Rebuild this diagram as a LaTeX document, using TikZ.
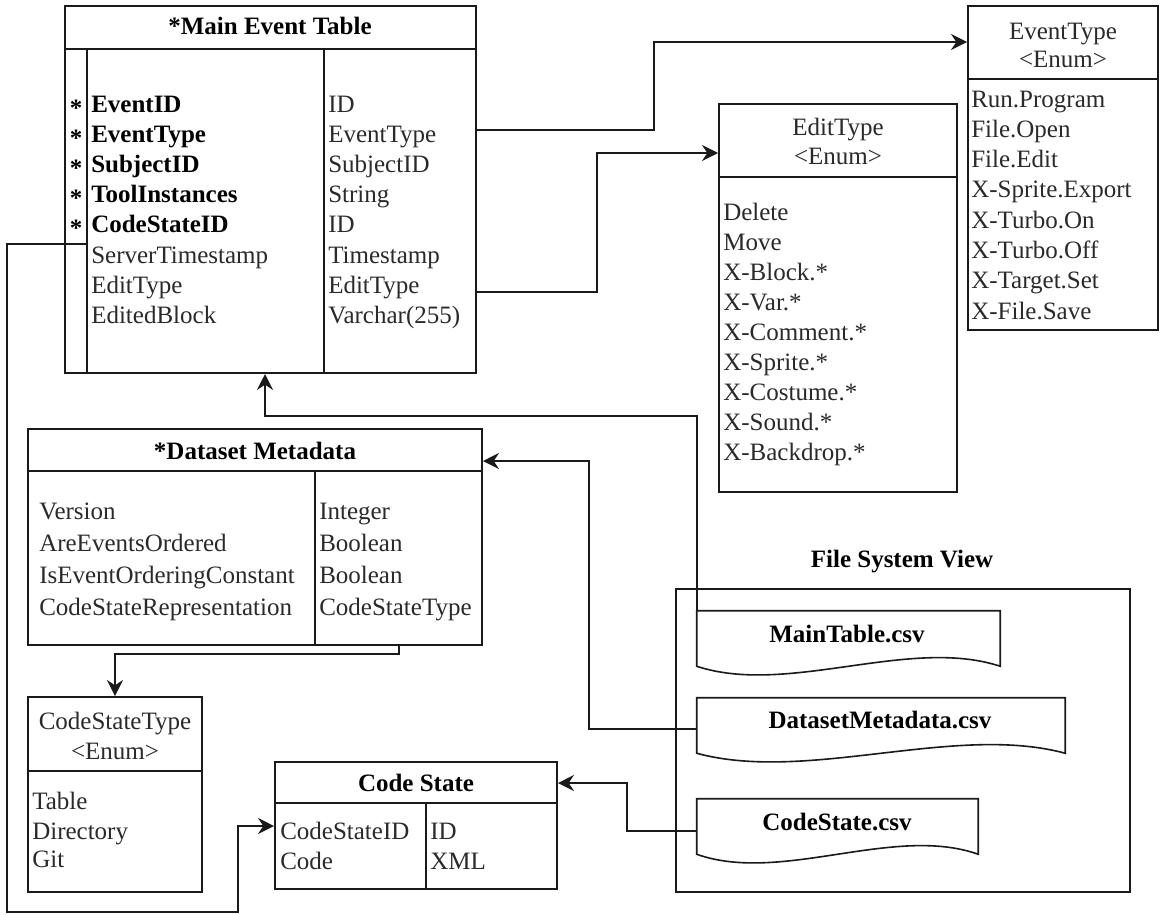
\documentclass[tikz,border=0pt]{standalone}
\usepackage{fontspec}
\setmainfont{Liberation Serif}
\usetikzlibrary{arrows.meta,fit,calc}
\definecolor{txt}{HTML}{2A2A2A}
\definecolor{ln}{HTML}{1A1A1A}
\newcommand\dfs{\fontsize{18.75pt}{22pt}\selectfont}
\begin{document}
\begin{tikzpicture}[x=0.75pt,y=-0.75pt,
  tbl/.style={draw=ln, line width=1.5pt, inner sep=0pt},
  tline/.style={draw=ln, line width=1.5pt},
  fsbox/.style={draw=ln, line width=1.2pt, inner sep=0pt},
  docshape/.style={draw=ln, line width=1.2pt},
  tx/.style={font=\dfs, text=txt, inner sep=0pt, anchor=base west},
  txb/.style={font=\dfs\bfseries, text=black, inner sep=0pt, anchor=base west},
  ttl/.style={font=\dfs, text=txt, inner sep=0pt, anchor=base},
  ttlb/.style={font=\dfs\bfseries, text=black, inner sep=0pt, anchor=base},
  conn/.style={draw=ln, line width=1.2pt, -{Stealth[length=12pt,width=12pt,inset=4pt]}},
  plainconn/.style={draw=ln, line width=1.2pt}
]
\fill[white] (0,0) rectangle (1160,914);
\useasboundingbox (0,0) rectangle (1160,914);

% ---------- Main Event Table ----------
\node[tbl, fit={(65,6) (476,373)}] (main) {};
\draw[tline] (65,49) -- (476,49);
\draw[tline] (87,49) -- (87,373);
\draw[tline] (324,49) -- (324,373);
\node[ttlb] (mainT) at (270,34) {*Main Event Table};
\foreach \t [count=\i from 0] in {EventID,EventType,SubjectID,ToolInstances,CodeStateID}{
  \node[txb] (mL\i) at (91,{112+30.2*\i}) {\t};
  \node[font=\dfs\bfseries, inner sep=0pt, anchor=base] (mA\i) at (76,{116+30.2*\i}) {*};
}
\foreach \t [count=\i from 5] in {ServerTimestamp,EditType,EditedBlock}{
  \node[tx] (mL\i) at (91,{112+30.2*\i}) {\t};
}
\foreach \t [count=\i from 0] in {ID,EventType,SubjectID,String,ID,Timestamp,EditType,Varchar(255)}{
  \node[tx] (mR\i) at (328,{112+30.2*\i}) {\t};
}

% ---------- EventType enum ----------
\node[tbl, fit={(968,6) (1158,330)}] (evt) {};
\draw[tline] (968,79) -- (1158,79);
\node[ttl] (evtT1) at (1063,39) {EventType};
\node[ttl] (evtT2) at (1063,67) {<Enum>};
\foreach \t [count=\i from 0] in {Run.Program,File.Open,File.Edit,X-Sprite.Export,X-Turbo.On,X-Turbo.Off,X-Target.Set,X-File.Save}{
  \node[tx] (eV\i) at (971,{107+30.3*\i}) {\t};
}

% ---------- EditType enum ----------
\node[tbl, fit={(719,104) (957,492)}] (edt) {};
\draw[tline] (719,177) -- (957,177);
\node[ttl] (edtT1) at (838,135) {EditType};
\node[ttl] (edtT2) at (838,164) {<Enum>};
\foreach \t [count=\i from 0] in {Delete,Move,X-Block.*,X-Var.*,X-Comment.*,X-Sprite.*,X-Costume.*,X-Sound.*,X-Backdrop.*}{
  \node[tx] (eD\i) at (723,{220+30.1*\i}) {\t};
}

% ---------- Dataset Metadata ----------
\node[tbl, fit={(28,429) (482,645)}] (dm) {};
\draw[tline] (28,471) -- (482,471);
\draw[tline] (315,471) -- (315,645);
\node[ttlb] (dmT) at (255,459) {*Dataset Metadata};
\foreach \t [count=\i from 0] in {Version,AreEventsOrdered,IsEventOrderingConstant,CodeStateRepresentation}{
  \node[tx] (dL\i) at (39,{519+32.3*\i}) {\t};
}
\foreach \t [count=\i from 0] in {Integer,Boolean,Boolean,CodeStateType}{
  \node[tx] (dR\i) at (319,{519+32.3*\i}) {\t};
}

% ---------- CodeStateType enum ----------
\node[tbl, fit={(28,697) (202,892)}] (cst) {};
\draw[tline] (28,771) -- (202,771);
\node[ttl] (cstT1) at (115,729) {CodeStateType};
\node[ttl] (cstT2) at (115,759) {<Enum>};
\node[tx] (cV0) at (32,809) {Table};
\node[tx] (cV1) at (32,839) {Directory};
\node[tx] (cV2) at (32,867) {Git};

% ---------- Code State ----------
\node[tbl, fit={(275,762) (557,889)}] (cs) {};
\draw[tline] (275,803) -- (557,803);
\draw[tline] (426,803) -- (426,889);
\node[ttlb] (csT) at (416,791) {Code State};
\node[tx] (sL0) at (280,839) {CodeStateID};
\node[tx] (sL1) at (280,869) {Code};
\node[tx] (sR0) at (430,839) {ID};
\node[tx] (sR1) at (430,869) {XML};

% ---------- File System View ----------
\node[ttlb] (fsT) at (902,567) {File System View};
\node[fsbox, fit={(676,589) (1130,892)}] (fs) {};

\node[inner sep=0pt, fit={(697,611) (1000,666)}] (fmt) {};
\node[inner sep=0pt, fit={(697,698) (1065,753)}] (fdm) {};
\node[inner sep=0pt, fit={(697,799) (978,854)}] (fcs) {};
\foreach \d in {fmt,fdm,fcs}{
  \draw[docshape, fill=white] (\d.north west) -- (\d.north east) -- (\d.south east)
    .. controls ($(\d.south west)!0.7!(\d.south east)+(0,-30)$) and ($(\d.south west)!0.3!(\d.south east)+(0,30)$) .. (\d.south west) -- cycle;
}
\node[ttlb] (fmtT) at (847,642) {MainTable.csv};
\node[ttlb] (fdmT) at (880,728) {DatasetMetadata.csv};
\node[ttlb] (fcsT) at (837,830) {CodeState.csv};

% ---------- connectors ----------
\draw[conn] (main.east |- 0,130) -| (654,42) -- (evt.west |- 0,42);
\draw[conn] (main.east |- 0,292) -| (597,153) -- (edt.west |- 0,153);
\draw[conn] (fmt.north west) |- (265,416) -- (main.south -| 265,0);
\draw[conn] (fdm.west |- 0,729) -| (589,461) -- (dm.east |- 0,461);
\draw[conn] (fcs.west |- 0,831) -| (627,783) -- (cs.east |- 0,783);
\coordinate (csidsrc) at (87,212);
\draw[conn] (csidsrc) |- (7,244) |- (238,912) |- (cs.west |- 0,826);
\draw[conn] (dm.south -| 399,0) |- (115,654) -- (cst.north);
\end{tikzpicture}
\end{document}
